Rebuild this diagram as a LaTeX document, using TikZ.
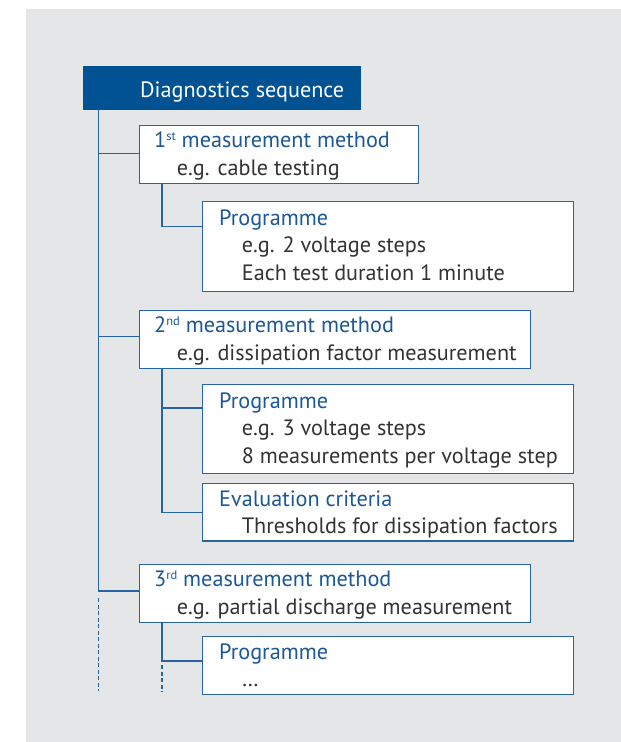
\documentclass[tikz,border=0pt]{standalone}
\usepackage{fontspec}
\setmainfont{PT Sans}
\usetikzlibrary{calc}
\definecolor{bg}{RGB}{229,230,232}
\definecolor{hdr}{RGB}{0,82,147}
\definecolor{ttl}{RGB}{28,88,150}
\definecolor{edge}{RGB}{38,100,165}
\definecolor{body}{RGB}{51,51,51}
\newcommand{\mysups}[1]{\raisebox{7pt}{\fontsize{12.5}{12.5}\selectfont #1}}
\begin{document}
\begin{tikzpicture}[x=1pt,y=-1pt,
  box/.style={draw=edge, line width=1.3pt, fill=white, anchor=north west, inner sep=0pt},
  hdrbox/.style={fill=hdr, anchor=north west, inner sep=0pt},
  txt/.style={anchor=base west, inner sep=0pt, font=\fontsize{22.2}{26}\selectfont},
  ttltext/.style={txt, text=ttl},
  bodytext/.style={txt, text=body},
  conn/.style={draw=edge, line width=1.3pt},
  dashconn/.style={conn, dash pattern=on 4pt off 2.5pt}]
\useasboundingbox (0,0) rectangle (621,742);
\fill[bg] (26,9) rectangle (621,742);
% boxes
\node[hdrbox, minimum width=278pt, minimum height=44pt] (hdr) at (83,66) {};
\node[box, minimum width=279pt, minimum height=58pt] (m1) at (138.7,125) {};
\node[box, minimum width=371pt, minimum height=90pt] (p1) at (202,201) {};
\node[box, minimum width=391.3pt, minimum height=58pt] (m2) at (138.7,310) {};
\node[box, minimum width=371pt, minimum height=89pt] (p2) at (202,384) {};
\node[box, minimum width=371pt, minimum height=57.6pt] (e2) at (202,482.7) {};
\node[box, minimum width=391.3pt, minimum height=57.7pt] (m3) at (138.7,564) {};
\node[box, minimum width=371pt, minimum height=57.5pt] (p3) at (202,636) {};
% texts
\node[txt, text=white] (th) at (140,97.3) {Diagnostics sequence};
\node[ttltext] (t1a) at ($(m1.north west)+(15.3,22.3)$) {1\mysups{st} measurement method};
\node[bodytext] (t1b) at ($(m1.north west)+(38,50)$) {e.g. cable testing};
\node[ttltext] (tp1a) at ($(p1.north west)+(17,24)$) {Programme};
\node[bodytext] (tp1b) at ($(p1.north west)+(39.7,51.5)$) {e.g. 2 voltage steps};
\node[bodytext] (tp1c) at ($(p1.north west)+(39.7,79)$) {Each test duration 1 minute};
\node[ttltext] (t2a) at ($(m2.north west)+(15.3,22.3)$) {2\mysups{nd} measurement method};
\node[bodytext] (t2b) at ($(m2.north west)+(38,50)$) {e.g. dissipation factor measurement};
\node[ttltext] (tp2a) at ($(p2.north west)+(17,24)$) {Programme};
\node[bodytext] (tp2b) at ($(p2.north west)+(39.7,51.5)$) {e.g. 3 voltage steps};
\node[bodytext] (tp2c) at ($(p2.north west)+(39.7,79)$) {8 measurements per voltage step};
\node[ttltext] (te2a) at ($(e2.north west)+(17,23.3)$) {Evaluation criteria};
\node[bodytext] (te2b) at ($(e2.north west)+(39.7,51)$) {Thresholds for dissipation factors};
\node[ttltext] (t3a) at ($(m3.north west)+(15.3,22.3)$) {3\mysups{rd} measurement method};
\node[bodytext] (t3b) at ($(m3.north west)+(38,50)$) {e.g. partial discharge measurement};
\node[ttltext] (tp3a) at ($(p3.north west)+(17,23)$) {Programme};
\node[bodytext] (tp3b) at ($(p3.north west)+(39.7,50)$) {\dots};
% trunk
\coordinate (trunktop) at ($(hdr.south west)+(15.3,0)$);
\draw[conn] (trunktop) |- ([yshift=1pt]m1.west);
\draw[conn] (trunktop) |- ([yshift=3pt]m2.west);
\draw[conn] (trunktop) |- ([yshift=2.5pt]m3.west);
\coordinate (trunkend) at ($(trunktop)+(0,580.7)$);
\draw[dashconn] ($(trunktop)+(0,488)$) -- (trunkend);
% sub branches
\draw[conn] ($(m1.south west)+(23.3,0)$) |- ($(p1.north west)+(0,25.7)$);
\draw[conn] ($(m2.south west)+(23.3,0)$) |- ($(p2.north west)+(0,24)$);
\draw[conn] ($(m2.south west)+(23.3,0)$) |- (e2.west);
\draw[conn] ($(m3.south west)+(23.3,0)$) |- ($(p3.north west)+(0,25)$);
\coordinate (subend) at ($(m3.south west)+(23.3,69)$);
\draw[dashconn] ($(m3.south west)+(23.3,42)$) -- (subend);
\end{tikzpicture}
\end{document}
